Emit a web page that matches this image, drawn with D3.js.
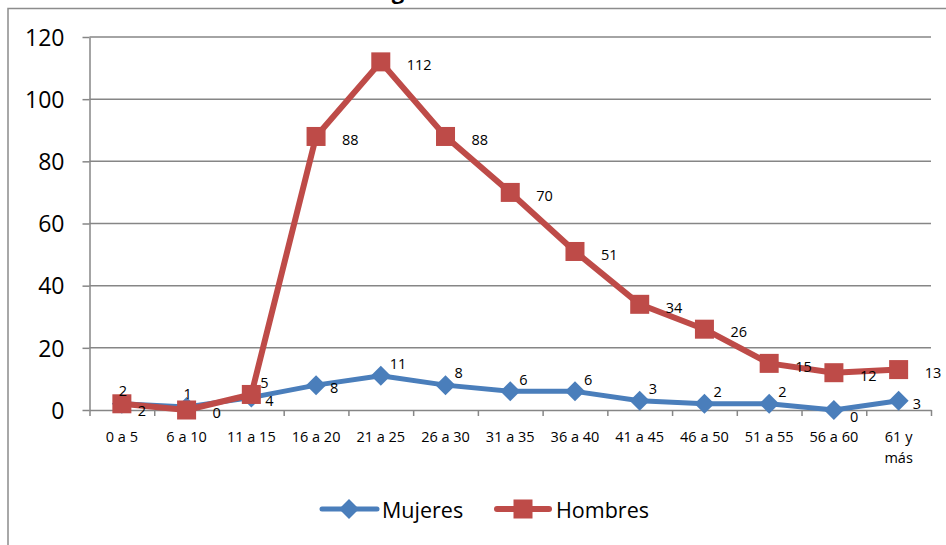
<!DOCTYPE html>
<html>
<head>
<meta charset="utf-8">
<script src="https://cdn.jsdelivr.net/npm/d3@7/dist/d3.min.js"></script>
<style>
  body { margin: 0; background: #fff; }
  svg { display: block; font-family: "Open Sans", sans-serif; }
</style>
</head>
<body>
<div id="chart"></div>
<script>
var categories = ["0 a 5", "6 a 10", "11 a 15", "16 a 20", "21 a 25", "26 a 30", "31 a 35",
  "36 a 40", "41 a 45", "46 a 50", "51 a 55", "56 a 60", "61 y más"];
var mujeres = [2, 1, 4, 8, 11, 8, 6, 6, 3, 2, 2, 0, 3];
var hombres = [2, 0, 5, 88, 112, 88, 70, 51, 34, 26, 15, 12, 13];
var yTicks = [0, 20, 40, 60, 80, 100, 120];
// where each data label sits relative to its point (like excel label positions)
var mujeresLabelPos = ["above", "above", "right", "right", "upright", "upright", "upright",
  "upright", "upright", "upright", "upright", "downright", "right"];
var hombresLabelPos = ["downright", "right", "upright", "right", "right", "right", "right",
  "right", "right", "right", "right", "right", "right"];

var width = 946, height = 545;
var plot = { left: 89.5, right: 931, top: 37, bottom: 410 };

var svg = d3.select("#chart").append("svg")
  .attr("width", width)
  .attr("height", height);

// chart frame (runs off the page at right and bottom)
svg.append("rect")
  .attr("x", 8).attr("y", 8.5)
  .attr("width", 960).attr("height", 560)
  .attr("fill", "none")
  .attr("stroke", "#8c8c8c")
  .attr("stroke-width", 1.5);

// title, mostly cut off above the page
svg.append("text")
  .attr("x", 398).attr("y", -1)
  .attr("text-anchor", "middle")
  .attr("font-weight", "bold")
  .attr("font-size", 22)
  .text("g");

var x = d3.scaleBand().domain(categories).range([plot.left, plot.right]).padding(0);
var xIdx = d3.scaleLinear().domain([0, categories.length]).range([plot.left, plot.right]);
var y = d3.scaleLinear().domain([0, 120]).range([plot.bottom, plot.top]);
var cx = function(i) { return x(categories[i]) + x.bandwidth() / 2; };

// gridlines
svg.append("g")
  .selectAll("line")
  .data(yTicks.filter(function(d) { return d > 0; }))
  .enter()
  .append("line")
  .attr("x1", plot.left).attr("x2", plot.right)
  .attr("y1", function(d) { return y(d); })
  .attr("y2", function(d) { return y(d); })
  .attr("stroke", "#868686")
  .attr("stroke-width", 1.5);

// y axis
var yAxis = svg.append("g")
  .attr("transform", "translate(" + plot.left + ",0)")
  .call(d3.axisLeft(y).tickValues(yTicks).tickSize(7).tickPadding(18).tickSizeOuter(0));
yAxis.select(".domain").attr("stroke", "#868686").attr("stroke-width", 1.5);
yAxis.selectAll(".tick line").attr("stroke", "#868686").attr("stroke-width", 1.5);
yAxis.selectAll(".tick text")
  .attr("font-family", "Open Sans")
  .attr("font-size", 23)
  .attr("fill", "#000")
  .attr("dy", "0.36em");

// x axis with ticks between categories
var xAxis = svg.append("g")
  .attr("transform", "translate(0," + plot.bottom + ")")
  .call(d3.axisBottom(xIdx).tickValues(d3.range(categories.length + 1)).tickSize(6).tickSizeOuter(0).tickFormat(""));
xAxis.select(".domain").attr("stroke", "#868686").attr("stroke-width", 1.5);
xAxis.selectAll(".tick line").attr("stroke", "#868686").attr("stroke-width", 1.5);

svg.append("g")
  .selectAll("text")
  .data(categories)
  .enter()
  .append("text")
  .attr("x", function(d, i) { return cx(i); })
  .attr("y", 442)
  .attr("text-anchor", "middle")
  .attr("font-size", 14.5)
  .each(function(d) {
    var parts = d === "61 y más" ? ["61 y", "más"] : [d];
    var t = d3.select(this);
    parts.forEach(function(p, k) {
      t.append("tspan").attr("x", t.attr("x")).attr("dy", k === 0 ? 0 : 21).text(p);
    });
  });

var blue = "#4a7ebb", red = "#be4b48";

var line = d3.line()
  .x(function(d, i) { return cx(i); })
  .y(function(d) { return y(d); });

var diamond = function(s) {
  return "M0," + (-s) + "L" + s + ",0L0," + s + "L" + (-s) + ",0Z";
};

// mujeres
svg.append("path")
  .datum(mujeres)
  .attr("d", line)
  .attr("fill", "none")
  .attr("stroke", blue)
  .attr("stroke-width", 5)
  .attr("stroke-linejoin", "round");
svg.append("g")
  .selectAll("path")
  .data(mujeres)
  .enter()
  .append("path")
  .attr("transform", function(d, i) { return "translate(" + cx(i) + "," + y(d) + ")"; })
  .attr("d", diamond(10))
  .attr("fill", blue);

// hombres
svg.append("path")
  .datum(hombres)
  .attr("d", line)
  .attr("fill", "none")
  .attr("stroke", red)
  .attr("stroke-width", 6)
  .attr("stroke-linejoin", "round");
svg.append("g")
  .selectAll("rect")
  .data(hombres)
  .enter()
  .append("rect")
  .attr("x", function(d, i) { return cx(i) - 9.5; })
  .attr("y", function(d) { return y(d) - 9.5; })
  .attr("width", 19).attr("height", 19)
  .attr("fill", red);

// data labels
var offsets = {
  above: { dx: 1, dy: -13, anchor: "middle" },
  upright: { dx: 9, dy: -12, anchor: "start" },
  downright: { dx: 16, dy: 7, anchor: "start" },
  right: { dx: 0, dy: 3, anchor: "start" }
};
function addLabels(values, pos, rightGap) {
  svg.append("g")
    .selectAll("text")
    .data(values)
    .enter()
    .append("text")
    .attr("x", function(d, i) {
      var o = offsets[pos[i]];
      return cx(i) + (pos[i] === "right" ? rightGap : o.dx);
    })
    .attr("y", function(d, i) { return y(d) + offsets[pos[i]].dy; })
    .attr("dy", "0.36em")
    .attr("text-anchor", function(d, i) { return offsets[pos[i]].anchor; })
    .attr("font-size", 14.5)
    .text(function(d) { return d; });
}
addLabels(mujeres, mujeresLabelPos, 14);
addLabels(hombres, hombresLabelPos, 26);

// legend
var legend = svg.append("g");
legend.append("line")
  .attr("x1", 322).attr("x2", 377).attr("y1", 509).attr("y2", 509)
  .attr("stroke", blue).attr("stroke-width", 5).attr("stroke-linecap", "round");
legend.append("path")
  .attr("transform", "translate(349,509)")
  .attr("d", diamond(10))
  .attr("fill", blue);
legend.append("text")
  .attr("x", 382).attr("y", 518)
  .attr("font-size", 21.5)
  .text("Mujeres");
legend.append("line")
  .attr("x1", 497).attr("x2", 549).attr("y1", 509).attr("y2", 509)
  .attr("stroke", red).attr("stroke-width", 6).attr("stroke-linecap", "round");
legend.append("rect")
  .attr("x", 513.5).attr("y", 499.5).attr("width", 19).attr("height", 19)
  .attr("fill", red);
legend.append("text")
  .attr("x", 556).attr("y", 518)
  .attr("font-size", 21.5)
  .text("Hombres");
</script>
</body>
</html>
